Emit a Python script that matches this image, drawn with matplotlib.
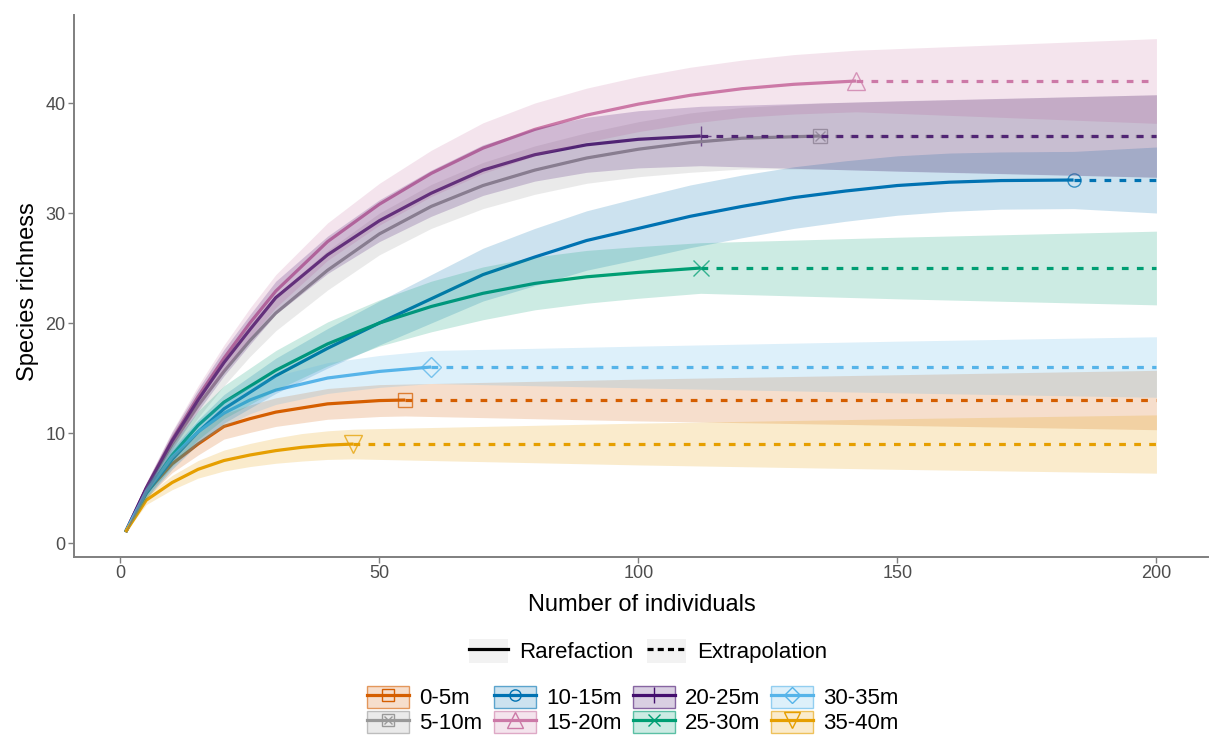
import matplotlib
matplotlib.use('Agg')
import matplotlib.pyplot as plt
import numpy as np
from matplotlib.lines import Line2D
from matplotlib.patches import Patch
from matplotlib.legend_handler import HandlerTuple
from matplotlib.colors import to_rgba

plt.rcParams['font.family'] = ['Liberation Sans', 'DejaVu Sans']

sites = ['0-5m', '5-10m', '10-15m', '15-20m', '20-25m', '25-30m', '30-35m', '35-40m']
colors = ['#D55E00', '#999999', '#0072B2', '#CC79A7', '#440F6E', '#009E73', '#56B4E9', '#E69F00']
n_obs = [55, 135, 184, 142, 112, 112, 60, 45]

# sample size / richness / CI half-width
n_0_5 = [1, 5, 10, 15, 20, 25, 30, 40, 50, 55, 100, 150, 200]
s_0_5 = [1, 4.6, 7.2, 9.0, 10.6, 11.3, 11.9, 12.65, 12.95, 13, 13, 13, 13]
ci_0_5 = [0, 0.5, 0.8, 1.0, 1.15, 1.25, 1.3, 1.4, 1.45, 1.45, 1.9, 2.3, 2.7]

n_5_10 = [1, 5, 10, 15, 20, 25, 30, 40, 50, 60, 70, 80, 90, 100, 110, 120, 135, 170, 200]
s_5_10 = [1, 4.9, 9.0, 12.5, 15.6, 18.4, 20.9, 24.8, 28.1, 30.6, 32.5, 33.9, 35.0, 35.8, 36.4, 36.8, 37, 37, 37]
ci_5_10 = [0, 0.5, 0.9, 1.1, 1.3, 1.45, 1.6, 1.8, 1.9, 2.0, 2.1, 2.2, 2.3, 2.5, 2.7, 2.8, 3.0, 3.4, 3.75]

n_10_15 = [1, 5, 10, 15, 20, 30, 40, 50, 60, 70, 80, 90, 100, 110, 120, 130, 140, 150, 160, 170, 184, 200]
s_10_15 = [1, 4.5, 7.6, 10.1, 12.2, 15.2, 17.7, 20.0, 22.2, 24.4, 26.0, 27.5, 28.6, 29.7, 30.6, 31.4, 32.0, 32.5, 32.8, 32.95, 33, 33]
ci_10_15 = [0, 0.5, 0.9, 1.1, 1.3, 1.6, 1.8, 2.0, 2.2, 2.4, 2.6, 2.7, 2.8, 2.85, 2.85, 2.8, 2.75, 2.7, 2.65, 2.6, 2.6, 3.0]

n_15_20 = [1, 5, 10, 15, 20, 25, 30, 40, 50, 60, 70, 80, 90, 100, 110, 120, 130, 142, 170, 200]
s_15_20 = [1, 5.0, 9.4, 13.3, 16.8, 20.0, 22.9, 27.4, 30.8, 33.6, 35.9, 37.6, 38.9, 39.9, 40.7, 41.3, 41.7, 42, 42, 42]
ci_15_20 = [0, 0.5, 0.8, 1.0, 1.2, 1.35, 1.5, 1.7, 1.9, 2.1, 2.3, 2.4, 2.45, 2.5, 2.55, 2.6, 2.7, 2.8, 3.3, 3.85]

n_20_25 = [1, 5, 10, 15, 20, 25, 30, 40, 50, 60, 70, 80, 90, 100, 112, 150, 200]
s_20_25 = [1, 5.0, 9.3, 13.0, 16.4, 19.4, 22.3, 26.2, 29.3, 31.8, 33.9, 35.3, 36.2, 36.7, 37, 37, 37]
ci_20_25 = [0, 0.5, 0.8, 1.0, 1.2, 1.35, 1.5, 1.7, 1.9, 2.1, 2.3, 2.4, 2.5, 2.6, 2.7, 3.2, 3.75]

n_25_30 = [1, 5, 10, 15, 20, 30, 40, 50, 60, 70, 80, 90, 100, 112, 150, 200]
s_25_30 = [1, 4.6, 8.0, 10.7, 12.8, 15.7, 18.1, 20.0, 21.5, 22.7, 23.6, 24.2, 24.6, 25, 25, 25]
ci_25_30 = [0, 0.5, 1.0, 1.3, 1.5, 1.8, 2.0, 2.1, 2.3, 2.4, 2.4, 2.4, 2.35, 2.3, 2.8, 3.35]

n_30_35 = [1, 5, 10, 15, 20, 25, 30, 40, 50, 60, 100, 150, 200]
s_30_35 = [1, 4.7, 7.8, 10.1, 11.8, 13.0, 13.9, 15.0, 15.6, 16, 16, 16, 16]
ci_30_35 = [0, 0.5, 0.9, 1.05, 1.2, 1.25, 1.3, 1.4, 1.45, 1.5, 1.9, 2.35, 2.75]

n_35_40 = [1, 5, 10, 15, 20, 25, 30, 35, 40, 45, 100, 150, 200]
s_35_40 = [1, 3.9, 5.5, 6.7, 7.5, 8.0, 8.4, 8.7, 8.9, 9, 9, 9, 9]
ci_35_40 = [0, 0.4, 0.65, 0.8, 0.95, 1.05, 1.15, 1.25, 1.3, 1.35, 1.9, 2.3, 2.65]

sizes = [n_0_5, n_5_10, n_10_15, n_15_20, n_20_25, n_25_30, n_30_35, n_35_40]
rich = [s_0_5, s_5_10, s_10_15, s_15_20, s_20_25, s_25_30, s_30_35, s_35_40]
cis = [ci_0_5, ci_5_10, ci_10_15, ci_15_20, ci_20_25, ci_25_30, ci_30_35, ci_35_40]

markers = ['s', 's', 'o', '^', '+', 'x', 'D', 'v']
msizes = [10.5, 10.5, 9.5, 13, 14, 11, 10, 13]

LW = 2.3
fig = plt.figure(figsize=(12.11, 7.36), dpi=100)
ax = fig.add_axes([74 / 1211, 1 - 557 / 736, (1208 - 74) / 1211, (557 - 15) / 736])

for i in range(len(sites)):
    c = colors[i]
    n = np.array(sizes[i], dtype=float)
    s = np.array(rich[i], dtype=float)
    h = np.array(cis[i], dtype=float)
    rare = n <= n_obs[i]
    ext = n >= n_obs[i]
    ax.plot(n[rare], s[rare], color=c, lw=LW, solid_capstyle='butt', solid_joinstyle='round', zorder=3)
    ax.plot(n[ext], s[ext], color=c, lw=LW, dashes=(2.1, 2.6), zorder=3)
    k = list(n).index(n_obs[i])
    ax.plot([n[k]], [s[k]], marker=markers[i], ms=msizes[i], mfc='none', mec=c,
            mew=1.0, alpha=0.75, ls='none', zorder=2)
    if sites[i] == '5-10m':
        ax.plot([n[k]], [s[k]], marker='x', ms=7, mec=c, mew=1.0, alpha=0.75, ls='none', zorder=2)
    ax.fill_between(n, s - h, s + h, color=c, alpha=0.2, lw=0, zorder=4)

ax.set_xlim(-8.95, 209.95)
ax.set_ylim(-1.27, 48.0)
ax.set_xticks([0, 50, 100, 150, 200])
ax.set_yticks([0, 10, 20, 30, 40])
for side in ['top', 'right']:
    ax.spines[side].set_visible(False)
for side in ['left', 'bottom']:
    ax.spines[side].set_color('#7F7F7F')
    ax.spines[side].set_linewidth(1.4)
ax.tick_params(colors='#7F7F7F', labelcolor='#4D4D4D', labelsize=13, length=4, width=1, pad=2)

fig.text(642 / 1211, 1 - 605 / 736, 'Number of individuals', fontsize=17, ha='center', va='center')
fig.text(28 / 1211, 1 - 292 / 736, 'Species richness', fontsize=17, ha='center', va='center', rotation=90)

overlay = {tuple: HandlerTuple(ndivide=1, pad=0)}

# line type legend
key_bg = Patch(facecolor='#F2F2F2', edgecolor='none')
lt_handles = [(key_bg, Line2D([], [], color='black', lw=LW)),
              (key_bg, Line2D([], [], color='black', lw=LW, dashes=(1.9, 1.3)))]
fig.legend(lt_handles, ['Rarefaction', 'Extrapolation'], loc='center',
           bbox_to_anchor=(648 / 1211, 1 - 651 / 736), ncol=2, frameon=False, fontsize=16,
           handler_map=overlay,
           handlelength=1.75, handleheight=1.3, handletextpad=0.5, columnspacing=0.6)

# site legend
site_handles = []
for i in range(len(sites)):
    c = colors[i]
    box = Patch(facecolor=to_rgba(c, 0.2), edgecolor=to_rgba(c, 0.6), lw=1)
    ln = Line2D([], [], color=c, lw=LW, marker=markers[i], ms=msizes[i] * 0.85, mfc='none', mec=c, mew=1.0)
    if sites[i] == '5-10m':
        site_handles.append((box, ln, Line2D([], [], ls='none', marker='x', ms=6, mec=c, mew=1.0)))
    else:
        site_handles.append((box, ln))
fig.legend(site_handles, sites, loc='center', bbox_to_anchor=(633 / 1211, 1 - 710 / 736),
           ncol=4, frameon=False, fontsize=16,
           handler_map=overlay,
           handlelength=1.9, handleheight=1.15, handletextpad=0.45, columnspacing=0.5,
           labelspacing=0.05)

fig.savefig('out.png', dpi=100)
